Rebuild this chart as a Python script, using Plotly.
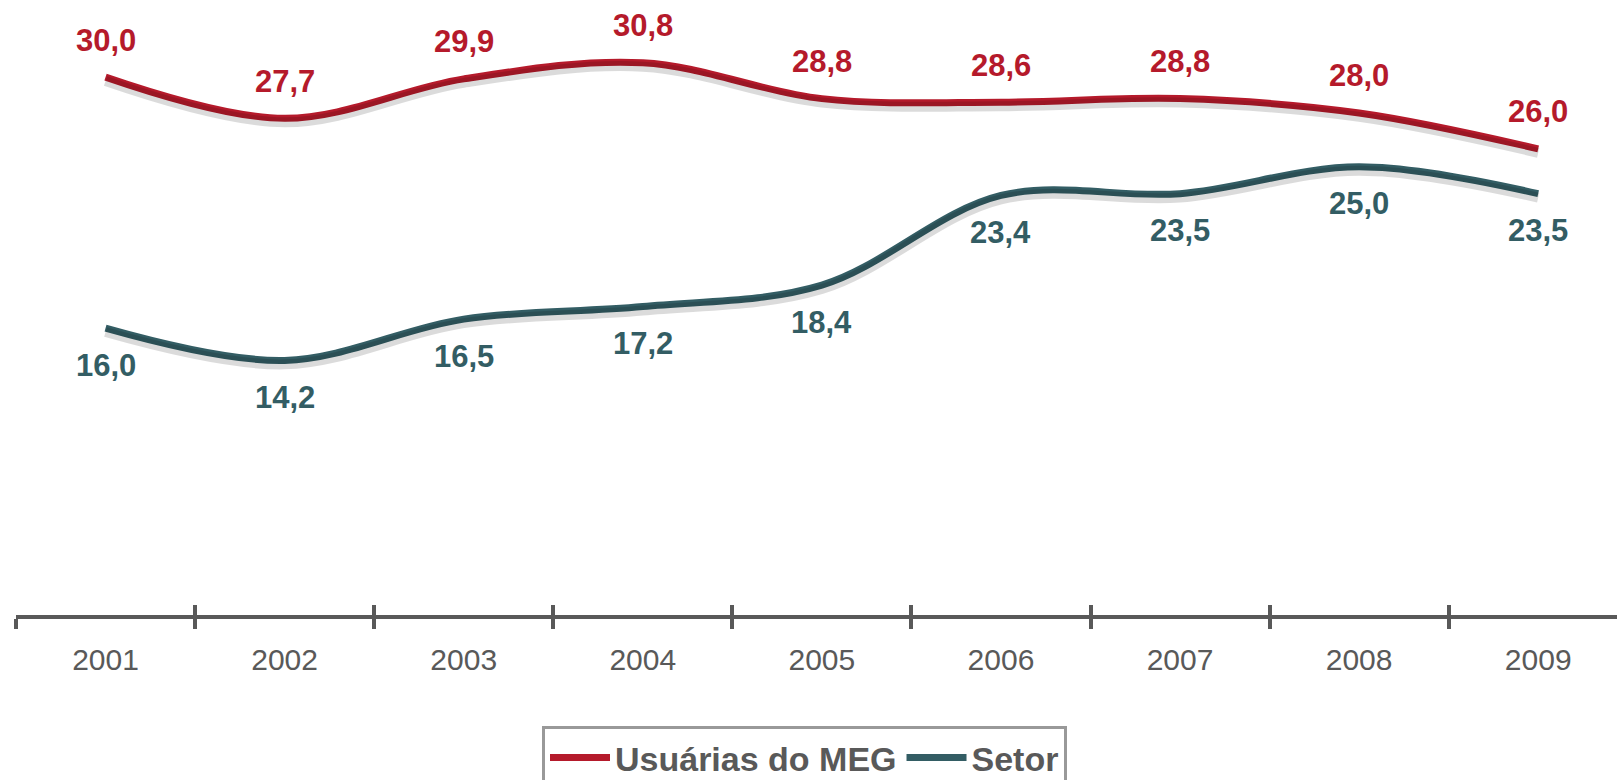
import plotly.graph_objects as go

years = ["2001", "2002", "2003", "2004", "2005", "2006", "2007", "2008", "2009"]
usuarias_meg = [30.0, 27.7, 29.9, 30.8, 28.8, 28.6, 28.8, 28.0, 26.0]
setor = [16.0, 14.2, 16.5, 17.2, 18.4, 23.4, 23.5, 25.0, 23.5]

RED = "#B51A2B"
TEAL = "#335D64"
GREY = "#595959"
FONT = "Liberation Sans, Arial, sans-serif"
SHADOW_OFFSET = 0.22


def fmt(v):
    return f"{v:.1f}".replace(".", ",")


fig = go.Figure()

# soft shadows under the lines (on overlaying axis x2)
for series in (usuarias_meg, setor):
    fig.add_trace(go.Scatter(
        x=years, y=[v - SHADOW_OFFSET for v in series], mode="lines",
        line=dict(color="rgba(0,0,0,0.14)", width=10, shape="spline", smoothing=1),
        xaxis="x2", yaxis="y", showlegend=False, hoverinfo="skip"))

fig.add_trace(go.Scatter(
    x=years, y=usuarias_meg, mode="lines", name="Usuárias do MEG",
    line=dict(color=RED, width=7, shape="spline", smoothing=1)))
fig.add_trace(go.Scatter(
    x=years, y=setor, mode="lines", name="Setor",
    line=dict(color=TEAL, width=7, shape="spline", smoothing=1)))

annotations = []
for i, v in enumerate(usuarias_meg):
    annotations.append(dict(x=i, y=v, xref="x", yref="y", text=fmt(v), showarrow=False,
                            yshift=37, font=dict(family=FONT, size=31, color=RED, weight="bold")))
for i, v in enumerate(setor):
    annotations.append(dict(x=i, y=v, xref="x", yref="y", text=fmt(v), showarrow=False,
                            yshift=-37, font=dict(family=FONT, size=31, color=TEAL, weight="bold")))

xrange = [-0.5, 8.44]
fig.update_layout(
    width=1617, height=780,
    margin=dict(l=16, r=0, t=0, b=165, autoexpand=False),
    paper_bgcolor="white", plot_bgcolor="white",
    annotations=annotations,
    xaxis=dict(type="category", categoryorder="array", categoryarray=years,
               range=xrange, tickson="boundaries", ticks="outside", ticklen=10,
               tickwidth=4, tickcolor=GREY, showline=True, linecolor=GREY, linewidth=4,
               showgrid=False, zeroline=False, ticklabelstandoff=15,
               tickfont=dict(family=FONT, size=30, color=GREY)),
    xaxis2=dict(type="category", categoryorder="array", categoryarray=years,
                range=xrange, overlaying="x", anchor="y", side="bottom",
                tickson="boundaries", ticks="inside", ticklen=10, tickwidth=4,
                tickcolor=GREY, showline=False, showgrid=False, zeroline=False,
                showticklabels=False),
    yaxis=dict(range=[0, 34.3], visible=False, showgrid=False, zeroline=False),
    showlegend=True,
    legend=dict(orientation="h", xref="container", yref="container",
                x=542 / 1617, xanchor="left", y=1 - 726 / 780, yanchor="top",
                bordercolor="#999999", borderwidth=3, bgcolor="white",
                font=dict(family=FONT, size=34, color=GREY, weight="bold"),
                itemwidth=60, traceorder="normal"),
)

fig.write_html("out.html", config={"displayModeBar": False},
               post_script="document.body.style.margin='0px';document.body.style.overflow='hidden';")
